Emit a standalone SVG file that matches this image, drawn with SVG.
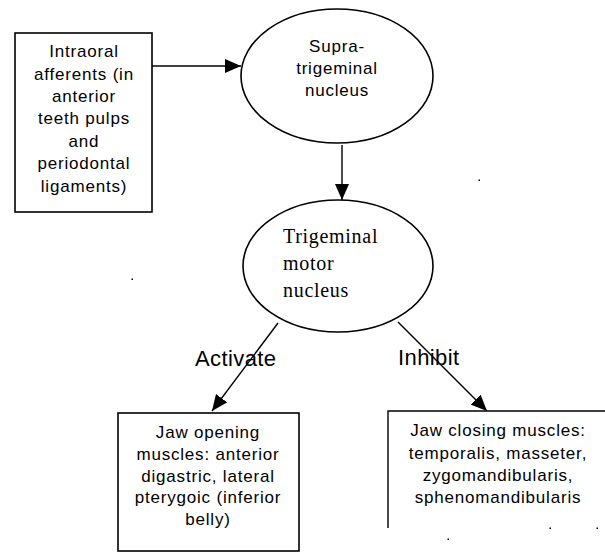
<svg xmlns="http://www.w3.org/2000/svg" width="605" height="552" viewBox="0 0 605 552">
<style>
.box{fill:#fff;stroke:#000;stroke-width:1.6}
.ell{fill:#fff;stroke:#000;stroke-width:1.6}
.line{stroke:#000;stroke-width:1.4;fill:none}
.sans{font-family:"Liberation Sans",Arial,sans-serif;font-size:17px;letter-spacing:0.8px;fill:#000;text-anchor:middle}
.serif{font-family:"Liberation Serif","Times New Roman",serif;font-size:20px;letter-spacing:0.7px;fill:#000}
.lbl{font-family:"Liberation Sans",Arial,sans-serif;font-size:22px;letter-spacing:0.4px;fill:#000}
</style>
<defs>
<marker id="ah" viewBox="0 0 16 14" refX="16" refY="7" markerWidth="16" markerHeight="14" markerUnits="userSpaceOnUse" orient="auto">
<path d="M0,0 L16,7 L0,14 Z" fill="#000"/>
</marker>
</defs>
<rect width="605" height="552" fill="#fff"/>
<g id="connectors">
<line class="line" x1="152" y1="66" x2="241" y2="66" marker-end="url(#ah)"/>
<line class="line" x1="342" y1="145" x2="342" y2="200" marker-end="url(#ah)"/>
<line class="line" x1="278" y1="323" x2="212" y2="411" marker-end="url(#ah)"/>
<line class="line" x1="398" y1="322" x2="487" y2="411" marker-end="url(#ah)"/>
</g>
<g id="intraoral">
<rect class="box" x="15" y="33" width="137" height="179"/>
<text class="sans" x="84" y="57">Intraoral</text>
<text class="sans" x="84" y="80">afferents (in</text>
<text class="sans" x="84" y="102">anterior</text>
<text class="sans" x="84" y="124">teeth pulps</text>
<text class="sans" x="84" y="147">and</text>
<text class="sans" x="84" y="169">periodontal</text>
<text class="sans" x="84" y="192">ligaments)</text>
</g>
<g id="supratrigeminal">
<ellipse class="ell" cx="337" cy="76" rx="96" ry="67"/>
<text class="sans" x="337" y="52">Supra-</text>
<text class="sans" x="337" y="74">trigeminal</text>
<text class="sans" x="337" y="96">nucleus</text>
</g>
<g id="motor">
<ellipse class="ell" cx="338" cy="266" rx="95" ry="66"/>
<text class="serif" x="283" y="243">Trigeminal</text>
<text class="serif" x="283" y="270">motor</text>
<text class="serif" x="283" y="297">nucleus</text>
</g>
<g id="labels">
<text class="lbl" x="195" y="366">Activate</text>
<text class="lbl" x="398" y="365">Inhibit</text>
</g>
<g id="jawopening">
<rect class="box" x="118" y="413" width="181" height="138"/>
<text class="sans" x="208" y="438">Jaw opening</text>
<text class="sans" x="208" y="460">muscles: anterior</text>
<text class="sans" x="208" y="482">digastric, lateral</text>
<text class="sans" x="208" y="503">pterygoic (inferior</text>
<text class="sans" x="208" y="525">belly)</text>
</g>
<g id="jawclosing">
<path class="line" d="M388,528 L388,411 L606,411" stroke-width="1.6"/>
<text class="sans" x="498" y="436">Jaw closing muscles:</text>
<text class="sans" x="498" y="459">temporalis, masseter,</text>
<text class="sans" x="498" y="481">zygomandibularis,</text>
<text class="sans" x="498" y="503">sphenomandibularis</text>
</g>
<g id="specks" fill="#000">
<rect x="478.5" y="179.5" width="1.5" height="1.5"/>
<rect x="131.5" y="278.5" width="1.5" height="1.5"/>
<rect x="549.5" y="527.5" width="1.5" height="1.5"/>
<rect x="596.5" y="527.5" width="1.5" height="1.5"/>
<rect x="447.5" y="538.5" width="1.5" height="1.5"/>
</g>
</svg>
